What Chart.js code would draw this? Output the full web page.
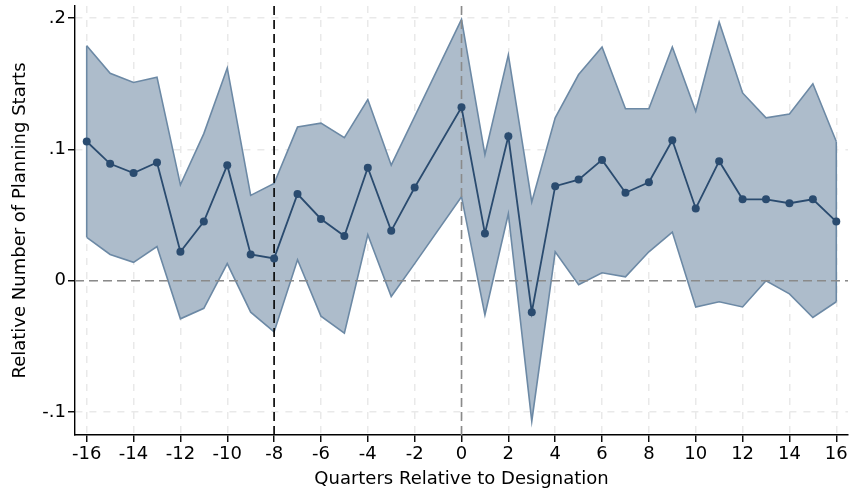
<!DOCTYPE html>
<html>
<head>
<meta charset="utf-8">
<script src="https://cdn.jsdelivr.net/npm/chart.js@4/dist/chart.umd.min.js"></script>
<style>
  html, body { margin: 0; padding: 0; background: #ffffff; }
  #wrap { width: 849px; height: 493px; }
</style>
</head>
<body>
<div id="wrap"><canvas id="c" width="849" height="493"></canvas></div>
<script>
// Event-study estimates by quarter relative to designation (quarter -1 is the omitted reference)
const quarters = [-16, -15, -14, -13, -12, -11, -10, -9, -8, -7, -6, -5, -4, -3, -2,
                  0, 1, 2, 3, 4, 5, 6, 7, 8, 9, 10, 11, 12, 13, 14, 15, 16];
const estimate = [0.106, 0.089, 0.082, 0.090, 0.022, 0.045, 0.088, 0.020, 0.017, 0.066, 0.047, 0.034, 0.086, 0.038, 0.071,
                  0.132, 0.036, 0.110, -0.024, 0.072, 0.077, 0.092, 0.067, 0.075, 0.107, 0.055, 0.091, 0.062, 0.062, 0.059, 0.062, 0.045];
const ciUpper  = [0.179, 0.158, 0.151, 0.155, 0.073, 0.112, 0.162, 0.065, 0.074, 0.117, 0.120, 0.109, 0.138, 0.088, 0.125,
                  0.199, 0.096, 0.172, 0.060, 0.124, 0.157, 0.178, 0.131, 0.131, 0.178, 0.129, 0.197, 0.143, 0.124, 0.127, 0.150, 0.106];
const ciLower  = [0.033, 0.020, 0.014, 0.026, -0.029, -0.021, 0.013, -0.024, -0.039, 0.016, -0.027, -0.040, 0.035, -0.012, 0.013,
                  0.064, -0.026, 0.051, -0.107, 0.022, -0.003, 0.006, 0.003, 0.022, 0.037, -0.020, -0.016, -0.020, 0.000, -0.010, -0.028, -0.016];

const xTickValues = [-16, -14, -12, -10, -8, -6, -4, -2, 0, 2, 4, 6, 8, 10, 12, 14, 16];
const yTickValues = [-0.1, 0, 0.1, 0.2];
const yTickLabels = ['-.1', '0', '.1', '.2'];

const designationQuarter = 0;
const announcementQuarter = -8;

const pts = arr => quarters.map((q, i) => ({ x: q, y: arr[i] }));
const last = quarters.length - 1;
// closing edges of the confidence band at the first and last quarter
const bandEdge = i => [{ x: quarters[i], y: ciLower[i] }, { x: quarters[i], y: ciUpper[i] }];

const FONT = 'DejaVu Sans';
const BAND_LINE = '#6c89a5';

// Reference lines: zero line, designation quarter, announcement quarter
const refLines = {
  id: 'refLines',
  beforeDatasetDraw(chart, args) {
    if (args.index !== 0) return;
    const { ctx, chartArea: a, scales: { x, y } } = chart;
    ctx.save();
    ctx.lineWidth = 1.6;
    ctx.setLineDash([9, 5]);
    ctx.strokeStyle = '#8a8a8a';
    const y0 = y.getPixelForValue(0);
    ctx.beginPath(); ctx.moveTo(a.left, y0); ctx.lineTo(a.right, y0); ctx.stroke();
    const xd = x.getPixelForValue(designationQuarter);
    ctx.beginPath(); ctx.moveTo(xd, a.top); ctx.lineTo(xd, a.bottom); ctx.stroke();
    ctx.strokeStyle = '#000000';
    const xa = x.getPixelForValue(announcementQuarter);
    ctx.beginPath(); ctx.moveTo(xa, a.top); ctx.lineTo(xa, a.bottom); ctx.stroke();
    ctx.restore();
  }
};

const edgeStyle = { borderColor: BAND_LINE, borderWidth: 1.6, pointRadius: 0, fill: false };

new Chart(document.getElementById('c'), {
  type: 'line',
  data: {
    datasets: [
      {
        label: 'Estimate',
        data: pts(estimate),
        borderColor: '#2a4b6f',
        backgroundColor: '#2a4b6f',
        borderWidth: 1.8,
        pointRadius: 4,
        pointBackgroundColor: '#2a4b6f',
        pointBorderWidth: 0,
        tension: 0,
        fill: false
      },
      Object.assign({ label: 'Band start', data: bandEdge(0) }, edgeStyle),
      Object.assign({ label: 'Band end', data: bandEdge(last) }, edgeStyle),
      {
        label: 'Upper',
        data: pts(ciUpper),
        borderColor: BAND_LINE,
        borderWidth: 1.6,
        pointRadius: 0,
        tension: 0,
        fill: false
      },
      {
        label: 'Lower',
        data: pts(ciLower),
        borderColor: BAND_LINE,
        backgroundColor: '#adbccb',
        borderWidth: 1.6,
        pointRadius: 0,
        tension: 0,
        fill: '-1'
      }
    ]
  },
  options: {
    responsive: false,
    animation: false,
    events: [],
    layout: { autoPadding: false, padding: { top: 6, right: 1, left: 0, bottom: 0 } },
    plugins: {
      legend: { display: false },
      tooltip: { enabled: false }
    },
    scales: {
      x: {
        type: 'linear',
        min: -16.5,
        max: 16.5,
        afterBuildTicks: s => { s.ticks = xTickValues.map(v => ({ value: v })); },
        afterFit: s => { s.height = 58; s.paddingLeft = 0; s.paddingRight = 0; },
        ticks: {
          color: '#000',
          font: { family: FONT, size: 18 },
          padding: 2,
          maxRotation: 0,
          autoSkip: false
        },
        grid: {
          color: '#e9e9e9',
          lineWidth: 1.5,
          tickColor: '#000',
          tickLength: 7,
          tickWidth: 1.4
        },
        border: { color: '#000', width: 1.4, dash: [7, 7] },
        title: {
          display: true,
          text: 'Quarters Relative to Designation',
          color: '#000',
          font: { family: FONT, size: 18 },
          padding: { top: 0, bottom: 3 }
        }
      },
      y: {
        type: 'linear',
        min: -0.1175,
        max: 0.2092,
        afterBuildTicks: s => { s.ticks = yTickValues.map(v => ({ value: v })); },
        afterFit: s => { s.width = 75; s.paddingTop = 0; s.paddingBottom = 0; },
        ticks: {
          color: '#000',
          font: { family: FONT, size: 18 },
          padding: 2,
          callback: v => {
            const i = yTickValues.findIndex(t => Math.abs(t - v) < 1e-9);
            return i >= 0 ? yTickLabels[i] : '';
          }
        },
        grid: {
          color: '#e9e9e9',
          lineWidth: 1.5,
          tickColor: '#000',
          tickLength: 7,
          tickWidth: 1.4
        },
        border: { color: '#000', width: 1.4, dash: [7, 7] },
        title: {
          display: true,
          text: 'Relative Number of Planning Starts',
          color: '#000',
          font: { family: FONT, size: 18 },
          padding: { top: 10, bottom: 0 }
        }
      }
    }
  },
  plugins: [refLines]
});
</script>
</body>
</html>
